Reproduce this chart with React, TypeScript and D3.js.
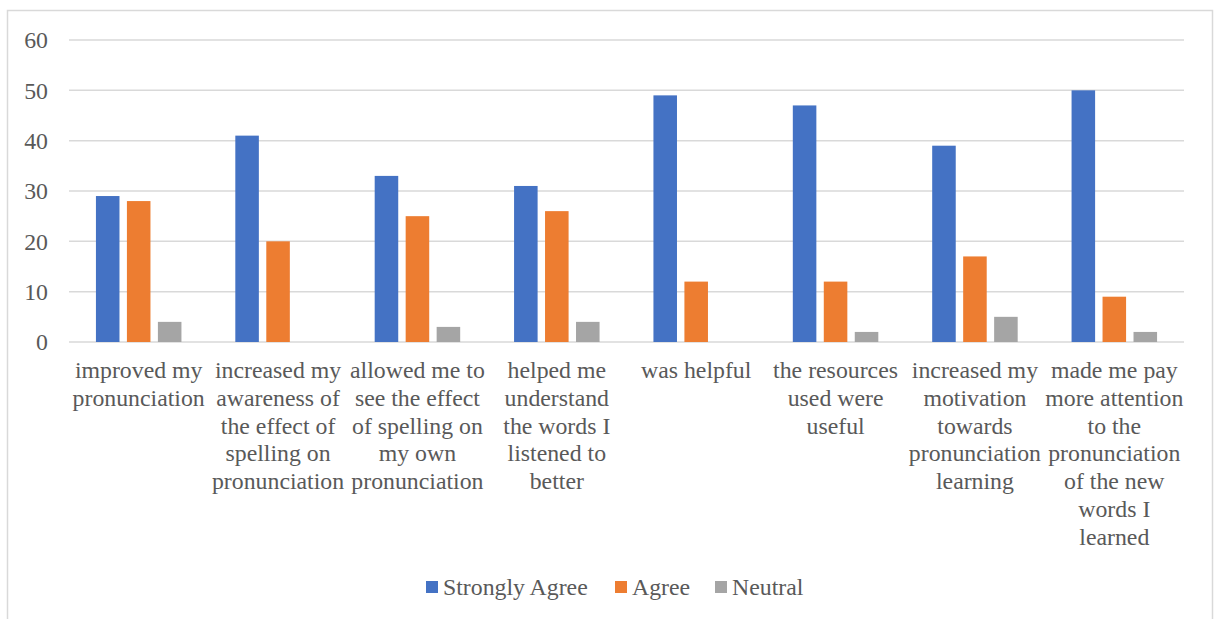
import React from "react";
import * as d3 from "d3";

const categories: string[][] = [
  ["improved my", "pronunciation"],
  ["increased my", "awareness of", "the effect of", "spelling on", "pronunciation"],
  ["allowed me to", "see the effect", "of spelling on", "my own", "pronunciation"],
  ["helped me", "understand", "the words I", "listened to", "better"],
  ["was helpful"],
  ["the resources", "used were", "useful"],
  ["increased my", "motivation", "towards", "pronunciation", "learning"],
  ["made me pay", "more attention", "to the", "pronunciation", "of the new", "words I", "learned"],
];
const seriesNames = ["Strongly Agree", "Agree", "Neutral"];
const stronglyAgree = [29, 41, 33, 31, 49, 47, 39, 50];
const agree = [28, 20, 25, 26, 12, 12, 17, 9];
const neutral = [4, 0, 3, 4, 0, 2, 5, 2];
const yTicks = [0, 10, 20, 30, 40, 50, 60];
const colors = ["#4472C4", "#ED7D31", "#A5A5A5"];

const W = 1217;
const H = 619;

export default function App() {
  const values = [stronglyAgree, agree, neutral];
  const keys = categories.map((_, i) => String(i));
  const x = d3.scaleBand().domain(keys).range([69, 1184]).padding(0);
  const y = d3.scaleLinear().domain([0, 60]).range([342, 40]);
  const groupW = 85.5;
  const x1 = d3.scaleBand().domain(seriesNames).range([0, groupW]).paddingInner(0.24).paddingOuter(0);
  const textColor = "#595959";
  const fs = 23.8;
  const txtStyle: React.CSSProperties = {
    fontFamily: '"Liberation Serif", "Times New Roman", "DejaVu Serif", serif',
    fontSize: fs,
    fill: textColor,
  };

  const legendItems = [
    { name: seriesNames[0], sx: 426, tx: 443 },
    { name: seriesNames[1], sx: 615, tx: 632 },
    { name: seriesNames[2], sx: 715, tx: 732 },
  ];

  return (
    <svg width={W} height={H} style={{ position: "absolute", left: 0, top: 0, background: "#fff" }}>
      <rect x={7.5} y={10.5} width={1205} height={640} fill="#fff" stroke="#d9d9d9" strokeWidth={1.5} />
      {yTicks.map((t) => (
        <g key={t}>
          <line x1={69} x2={1184} y1={y(t)} y2={y(t)} stroke="#d9d9d9" strokeWidth={1.5} />
          <text x={48} y={y(t)} dy="0.35em" textAnchor="end" style={txtStyle}>
            {t}
          </text>
        </g>
      ))}
      {keys.map((k, i) => {
        const cx = (x(k) as number) + x.bandwidth() / 2;
        const start = cx - groupW / 2;
        return (
          <g key={k}>
            {seriesNames.map((s, j) => {
              const v = values[j][i];
              if (!v) return null;
              return (
                <rect
                  key={s}
                  x={start + (x1(s) as number)}
                  y={y(v)}
                  width={x1.bandwidth()}
                  height={y(0) - y(v)}
                  fill={colors[j]}
                />
              );
            })}
            <text textAnchor="middle" style={txtStyle}>
              {categories[i].map((line, li) => (
                <tspan key={li} x={cx} y={378 + li * 27.8}>
                  {line}
                </tspan>
              ))}
            </text>
          </g>
        );
      })}
      {legendItems.map((it, j) => (
        <g key={it.name}>
          <rect x={it.sx} y={581} width={12} height={12} fill={colors[j]} />
          <text x={it.tx} y={595} style={txtStyle}>
            {it.name}
          </text>
        </g>
      ))}
    </svg>
  );
}
